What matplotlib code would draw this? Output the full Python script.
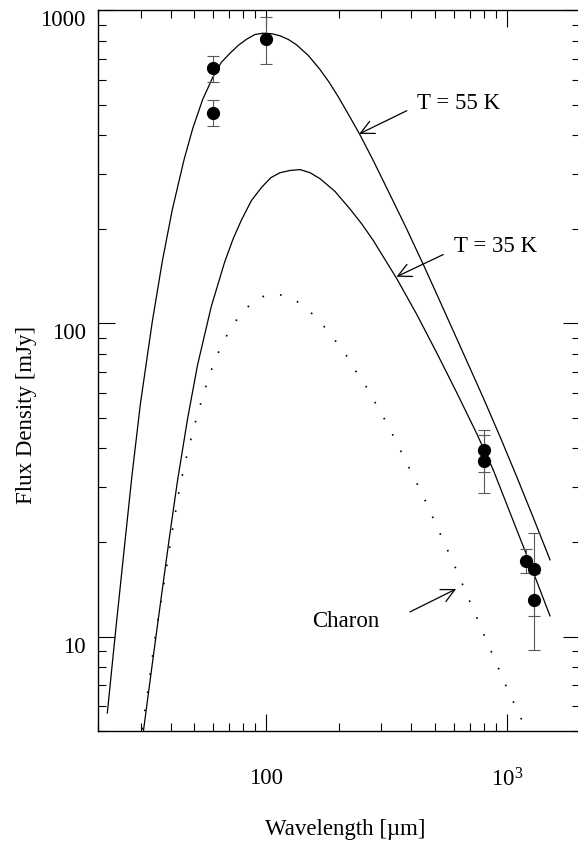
import numpy as np
import matplotlib
matplotlib.use('Agg')
import matplotlib.pyplot as plt
from matplotlib.ticker import FixedLocator, FixedFormatter, LogLocator, NullFormatter

plt.rcParams['font.family'] = ['Liberation Serif', 'DejaVu Serif']

# 观测点 (波长 µm, 流量 mJy, 误差下限/上限)
lam_obs = [60, 60, 100, 800, 800, 1200, 1300, 1300]
flux_obs = [653, 471, 810, 39.5, 36.5, 17.5, 16.5, 13.1]
flux_lo = [592, 427, 674, 33.5, 28.8, 16.0, 11.6, 9.1]
flux_hi = [716, 516, 950, 45.6, 44.2, 19.1, 21.5, 16.0]

# T = 55 K 曲线
lam_55 = [21.8, 23.5, 25.5, 27.6, 29.9, 33.5, 36.9, 40.6, 45.5, 49.4, 54.3, 59.8,
          64.9, 70.5, 76.4, 82.8, 89.6, 97.0, 105, 113.8, 123.3, 133.5, 148.8,
          166.9, 181.9, 198.3, 220.2, 244.8, 278, 326, 383, 449, 494, 625, 797,
          935, 1097, 1285, 1508]
flux_55 = [5.71, 10.1, 18.4, 32.7, 55.2, 101, 158, 231, 335, 420, 519, 611,
           682, 729, 773, 809, 837, 845, 842, 829, 807, 775, 719,
           647, 590, 531, 462, 400, 331, 258, 200, 154, 131, 87.7, 57.8,
           43.5, 32.4, 24.0, 17.6]

# T = 35 K 曲线
lam_35 = [30.8, 33.5, 36.3, 39.3, 42.6, 47.0, 51.7, 58.9, 67.0, 72.6, 78.7, 86.6,
          95.4, 104.2, 113.8, 125.3, 137.8, 151.7, 166.9, 192.7, 222.4, 248.8,
          278, 348, 421, 510, 618, 748, 877, 1207, 1508]
flux_35 = [5.0, 8.15, 12.9, 20.2, 31.2, 49.7, 73.7, 113, 157, 186, 214, 247,
           272, 292, 303, 308, 310, 303, 290, 264, 232, 208,
           184, 139, 107, 80.6, 60.1, 44.5, 34.0, 18.2, 11.65]

# Charon (点线)
lam_ch = [30.4, 31.9, 34.6, 37.5, 40.3, 43.5, 47.0, 50.1, 54.8, 60.8, 70.3, 78.7,
          91.0, 106.9, 126.7, 144.6, 166.9, 189.6, 212, 233, 257, 280, 306, 332,
          359, 448, 598, 724, 876, 1012, 1161]
flux_ch = [5.06, 6.45, 10.2, 14.8, 21.0, 29.8, 38.9, 47.0, 59.9, 76.1, 95.6, 108,
           120, 125, 121, 113, 101.5, 89.8, 80.4, 71.2, 63.7, 56.7, 50.3, 44.7,
           39.6, 28.1, 17.2, 12.2, 8.66, 6.70, 5.35]

FS = 16.5

fig = plt.figure(figsize=(5.78, 8.43), dpi=100)
ax = fig.add_axes([0.1701, 0.1329, 0.8325, 0.8549])
ax.set_xscale('log'); ax.set_yscale('log')

ax.plot(lam_55, flux_55, color='k', lw=0.9)
ax.plot(lam_35, flux_35, color='k', lw=0.9)
ax.plot(lam_ch, flux_ch, color='k', lw=1.2, linestyle=(0, (1, 10)))

yerr = [np.subtract(flux_obs, flux_lo), np.subtract(flux_hi, flux_obs)]
ax.errorbar(lam_obs, flux_obs, yerr=yerr, fmt='none', ecolor='0.35',
            elinewidth=0.8, capsize=4, capthick=0.8, zorder=3)
ax.plot(lam_obs, flux_obs, 'o', color='k', ms=8.5, zorder=4)

ax.set_xlim(20, 2000); ax.set_ylim(5, 1000)

ax.xaxis.set_major_locator(FixedLocator([100, 1000]))
ax.xaxis.set_major_formatter(FixedFormatter(['100', r'$\mathregular{10^3}$']))
ax.xaxis.set_minor_locator(LogLocator(base=10, subs=np.arange(2, 10), numticks=20))
ax.xaxis.set_minor_formatter(NullFormatter())
ax.yaxis.set_major_locator(FixedLocator([10, 100, 1000]))
ax.yaxis.set_major_formatter(FixedFormatter(['10', '100', '1000']))
ax.yaxis.set_minor_locator(LogLocator(base=10, subs=np.arange(2, 10), numticks=20))
ax.yaxis.set_minor_formatter(NullFormatter())

ax.tick_params(which='both', direction='in', top=True, right=True, width=0.8,
               labelsize=FS)
ax.tick_params(which='major', length=12)
ax.tick_params(which='minor', length=6)
ax.tick_params(axis='x', which='major', pad=27)
ax.tick_params(axis='y', which='major', pad=9)
for lab in ax.get_yticklabels():
    lab.set_verticalalignment('top')
for sp in ax.spines.values():
    sp.set_linewidth(1.0)

# 标注
arrow = dict(arrowstyle='->,head_length=0.6,head_width=0.3', color='k', lw=0.9,
             shrinkA=0, shrinkB=0, mutation_scale=16)
ax.text(631, 484, 'T = 55 K', ha='center', va='baseline', fontsize=FS)
ax.annotate('', xy=(243, 403), xytext=(383, 478), arrowprops=arrow)
ax.text(891, 169, 'T = 35 K', ha='center', va='baseline', fontsize=FS)
ax.annotate('', xy=(347, 141), xytext=(543, 166), arrowprops=arrow)
ax.text(214, 10.7, 'Charon', ha='center', va='baseline', fontsize=FS)
ax.annotate('', xy=(614, 14.2), xytext=(395, 12.0), arrowprops=arrow)

fig.text(27 / 578, 1 - 415 / 843, 'Flux Density [mJy]', rotation=90,
         ha='center', va='center', fontsize=FS)
fig.text(345 / 578, 1 - 830 / 843, 'Wavelength [µm]', ha='center', va='center',
         fontsize=FS)

fig.savefig('out.png', dpi=100)
